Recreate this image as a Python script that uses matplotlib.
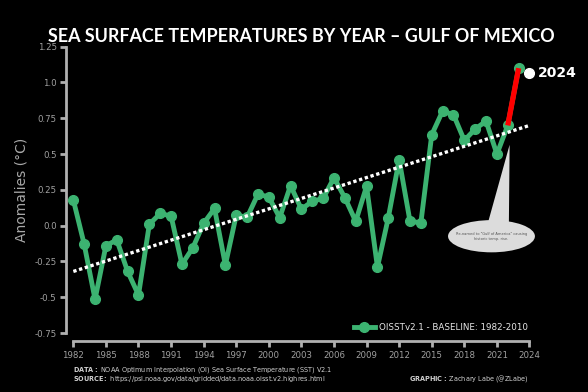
import numpy as np
import matplotlib
matplotlib.use('Agg')
import matplotlib.pyplot as plt
from matplotlib.patches import Ellipse, Polygon

## Data
years = list(range(1982, 2024))
anomalies = [0.18, -0.13, -0.515, -0.14, -0.10, -0.32, -0.485, 0.01, 0.085, 0.067,
             -0.27, -0.155, 0.016, 0.12, -0.275, 0.074, 0.058, 0.22, 0.20, 0.055,
             0.28, 0.115, 0.17, 0.19, 0.335, 0.195, 0.03, 0.275, -0.29, 0.055,
             0.46, 0.03, 0.02, 0.635, 0.80, 0.775, 0.595, 0.675, 0.73, 0.50,
             0.70, 1.10]
year_2024 = 2024
anomaly_2024 = 1.065
trend_years = [1982, 2024]
trend_values = [-0.32, 0.70]
rename_years = [2022, 2023]
rename_values = [0.70, 1.10]

y_ticks = [-0.75, -0.5, -0.25, 0.0, 0.25, 0.5, 0.75, 1.0, 1.25]
y_ticklabels = ['-0.75', '-0.5', '-0.25', '0.0', '0.25', '0.5', '0.75', '1.0', '1.25']
x_ticks = list(range(1982, 2025, 3))

green = '#3cb371'
spine_color = '#b0b0b0'
tick_color = '#a0a0a0'

fig = plt.figure(figsize=(5.88, 3.92), dpi=100, facecolor='black')
ax = fig.add_axes([0.1247, 0.1505, 0.7758, 0.7304])
ax.set_facecolor('black')

ax.spines['top'].set_visible(False)
ax.spines['right'].set_visible(False)
ax.spines['left'].set_position(('outward', 5))
ax.spines['bottom'].set_position(('outward', 6))
for s in ['left', 'bottom']:
    ax.spines[s].set_color(spine_color)
    ax.spines[s].set_linewidth(2)

ax.plot(trend_years, trend_values, color='white', linewidth=2.4,
        dashes=(1.0, 0.8), zorder=4)
ax.plot(years, anomalies, color=green, linewidth=3.5, marker='o',
        markersize=7, clip_on=False, zorder=3,
        label='OISSTv2.1 - BASELINE: 1982-2010')
ax.plot(rename_years, rename_values, color='red', linewidth=3.8,
        solid_capstyle='butt', zorder=5)
ax.plot([year_2024], [anomaly_2024], 'o', color='white', markersize=7,
        clip_on=False, zorder=6)
ax.text(year_2024 + 0.8, anomaly_2024, str(year_2024), color='white',
        fontsize=10, fontweight='bold', va='center', ha='left')

## speech bubble
bubble = Ellipse((2020.5, -0.074), 8.0, 0.225, facecolor='#dcdcdc',
                 edgecolor='none', zorder=2, clip_on=False)
ax.add_patch(bubble)
tail = Polygon([(2022.17, 0.565), (2020.1, 0.0), (2022.1, 0.0)],
               closed=True, facecolor='#dcdcdc', edgecolor='none', zorder=2,
               clip_on=False)
ax.add_patch(tail)
ax.text(2020.5, -0.074, 'Re-named to "Gulf of America" causing\nhistoric temp. rise.',
        fontsize=2.6, color='#555555', ha='center', va='center', zorder=3,
        linespacing=1.2)

ax.set_xlim(1982, 2024)
ax.set_ylim(-0.75, 1.25)
ax.set_xticks(x_ticks)
ax.set_xticklabels([str(x) for x in x_ticks])
ax.set_yticks(y_ticks)
ax.set_yticklabels(y_ticklabels)
ax.tick_params(axis='both', colors=spine_color, labelcolor=tick_color,
               labelsize=6.2, length=4, width=2, pad=3)

ax.set_ylabel('Anomalies (\N{DEGREE SIGN}C)', color='#a8a8a8', fontsize=10,
              labelpad=4)

leg = ax.legend(loc='lower right', frameon=False, fontsize=6.3, handlelength=2.4,
                handletextpad=0.5, borderaxespad=0.0,
                bbox_to_anchor=(1.005, -0.01))
for t in leg.get_texts():
    t.set_color('#e6e6e6')

fig.text(0.512, 0.908, 'SEA SURFACE TEMPERATURES BY YEAR \u2013 GULF OF MEXICO',
         color='white', fontsize=12.9, family='Lato', fontweight='bold',
         ha='center', va='center')

fig.text(0.124, 0.034 + 0.0215,
         r'$\bf{DATA:}$ NOAA Optimum Interpolation (OI) Sea Surface Temperature (SST) V2.1',
         color='#d0d0d0', fontsize=4.7, ha='left', va='center')
fig.text(0.124, 0.034,
         r'$\bf{SOURCE:}$ https://psl.noaa.gov/data/gridded/data.noaa.oisst.v2.highres.html',
         color='#d0d0d0', fontsize=4.7, ha='left', va='center')
fig.text(0.899, 0.034, r'$\bf{GRAPHIC:}$ Zachary Labe (@ZLabe)',
         color='#d0d0d0', fontsize=4.7, ha='right', va='center')

fig.savefig('out.png', dpi=100, facecolor='black')
